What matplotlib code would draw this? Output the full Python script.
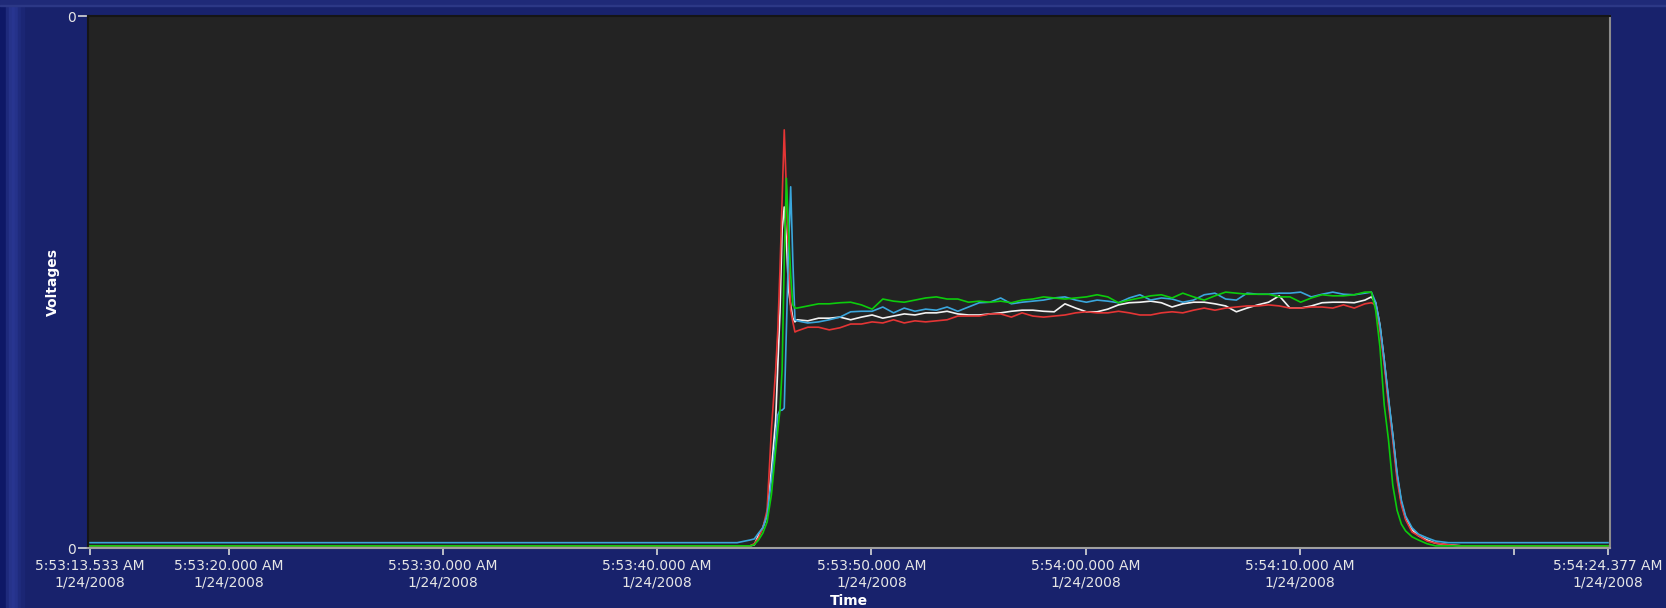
import numpy as np
import matplotlib
matplotlib.use("Agg")
import matplotlib.pyplot as plt
from matplotlib.patches import Rectangle

# seconds after 5:53:13.533 AM
t_end = 70.844
times = [0.0, 30.2, 30.8, 31.0, 31.2, 31.4, 31.6, 31.8, 32.0, 32.1, 32.2, 32.3,
         32.4, 32.5, 32.6, 32.7, 32.8, 32.9,
         33.0, 33.5, 34.0, 34.5, 35.0, 35.5, 36.0, 36.5, 37.0, 37.5, 38.0, 38.5,
         39.0, 39.5, 40.0, 40.5, 41.0, 41.5, 42.0, 42.5, 43.0, 43.5, 44.0, 44.5,
         45.0, 45.5, 46.0, 46.5, 47.0, 47.5, 48.0, 48.5, 49.0, 49.5, 50.0, 50.5,
         51.0, 51.5, 52.0, 52.5, 53.0, 53.5, 54.0, 54.5, 55.0, 55.5, 56.0, 56.5,
         57.0, 57.5, 58.0, 58.5, 59.0, 59.5,
         59.8, 60.0, 60.2, 60.4, 60.6, 60.8, 61.0, 61.2, 61.4, 61.7, 62.0, 62.4,
         62.8, 63.4, 64.0, t_end]

red = [0.04, 0.04, 0.04, 0.08, 0.19, 0.38, 0.71, 2.22, 3.35, 4.10, 5.23, 6.54,
       7.86, 6.73, 5.41, 4.47, 4.25, 4.06,
       4.08, 4.15, 4.15, 4.10, 4.14, 4.21, 4.21, 4.25, 4.23, 4.29, 4.23, 4.27,
       4.25, 4.27, 4.29, 4.36, 4.36, 4.36, 4.40, 4.40, 4.34, 4.42, 4.36, 4.34,
       4.36, 4.38, 4.42, 4.44, 4.42, 4.42, 4.45, 4.42, 4.38, 4.38, 4.42, 4.44,
       4.42, 4.47, 4.51, 4.47, 4.51, 4.53, 4.55, 4.55, 4.57, 4.55, 4.51, 4.51,
       4.53, 4.53, 4.51, 4.57, 4.51, 4.59,
       4.61, 4.57, 4.10, 3.44, 2.69, 2.03, 1.28, 0.81, 0.53, 0.30, 0.23, 0.13,
       0.09, 0.06, 0.04, 0.04]

white = [0.04, 0.04, 0.04, 0.06, 0.24, 0.38, 0.62, 1.47, 2.41, 3.44, 4.42, 5.98,
         6.41, 5.79, 4.85, 4.57, 4.32, 4.25,
         4.29, 4.27, 4.32, 4.32, 4.34, 4.29, 4.34, 4.38, 4.32, 4.36, 4.40, 4.38,
         4.42, 4.42, 4.45, 4.40, 4.38, 4.38, 4.40, 4.42, 4.45, 4.47, 4.47, 4.45,
         4.44, 4.59, 4.51, 4.44, 4.44, 4.49, 4.57, 4.61, 4.62, 4.64, 4.61, 4.53,
         4.59, 4.62, 4.62, 4.59, 4.55, 4.44, 4.51, 4.57, 4.62, 4.74, 4.51, 4.51,
         4.55, 4.61, 4.62, 4.62, 4.61, 4.66,
         4.72, 4.61, 4.19, 3.53, 2.78, 2.12, 1.37, 0.86, 0.56, 0.34, 0.23, 0.15,
         0.09, 0.06, 0.04, 0.04]

cyan = [0.10, 0.10, 0.15, 0.17, 0.28, 0.38, 0.62, 1.28, 2.03, 2.50, 2.59, 2.59,
        2.63, 4.10, 5.60, 6.79, 5.41, 4.29,
        4.27, 4.23, 4.25, 4.29, 4.34, 4.44, 4.45, 4.45, 4.53, 4.42, 4.51, 4.45,
        4.49, 4.47, 4.53, 4.45, 4.53, 4.61, 4.62, 4.70, 4.59, 4.62, 4.64, 4.66,
        4.70, 4.72, 4.66, 4.62, 4.66, 4.64, 4.61, 4.70, 4.76, 4.66, 4.70, 4.68,
        4.62, 4.66, 4.76, 4.79, 4.68, 4.66, 4.79, 4.77, 4.77, 4.79, 4.79, 4.81,
        4.72, 4.77, 4.81, 4.77, 4.76, 4.79,
        4.81, 4.62, 4.19, 3.53, 2.82, 2.12, 1.41, 0.90, 0.60, 0.38, 0.26, 0.19,
        0.13, 0.10, 0.10, 0.10]

green = [0.04, 0.04, 0.04, 0.06, 0.15, 0.28, 0.49, 1.00, 1.84, 2.22, 2.59, 3.35,
         5.41, 6.95, 5.98, 5.13, 4.57, 4.51,
         4.51, 4.55, 4.59, 4.59, 4.61, 4.62, 4.57, 4.49, 4.68, 4.64, 4.62, 4.66,
         4.70, 4.72, 4.68, 4.68, 4.62, 4.64, 4.62, 4.64, 4.61, 4.66, 4.68, 4.72,
         4.70, 4.68, 4.70, 4.72, 4.76, 4.72, 4.61, 4.66, 4.70, 4.74, 4.76, 4.70,
         4.79, 4.72, 4.66, 4.74, 4.81, 4.79, 4.77, 4.77, 4.77, 4.72, 4.72, 4.62,
         4.70, 4.76, 4.74, 4.74, 4.76, 4.81,
         4.81, 4.47, 3.78, 2.69, 2.03, 1.18, 0.71, 0.45, 0.32, 0.21, 0.15, 0.08,
         0.04, 0.04, 0.04, 0.04]

tick_times = [0.0, 6.467, 16.467, 26.467, 36.467, 46.467, 56.467, 66.467, t_end]
tick_labels = ["5:53:13.533 AM\n1/24/2008", "5:53:20.000 AM\n1/24/2008",
               "5:53:30.000 AM\n1/24/2008", "5:53:40.000 AM\n1/24/2008",
               "5:53:50.000 AM\n1/24/2008", "5:54:00.000 AM\n1/24/2008",
               "5:54:10.000 AM\n1/24/2008", "",
               "5:54:24.377 AM\n1/24/2008"]

navy = "#18226c"
fig = plt.figure(figsize=(16.66, 6.08), dpi=100, facecolor=navy)

# window chrome: darker outer edge and lighter bevel on the left, strip on top
W, H = 1666, 608
fig.patches.append(Rectangle((0, 0), 6 / W, 1, transform=fig.transFigure,
                             color="#0e1866", zorder=0))
for i, c in enumerate(["#1e2a7c", "#26338a", "#283590", "#25328a", "#1f2b7d", "#1b2674"]):
    fig.patches.append(Rectangle(((6 + 3 * i) / W, 0), 3 / W, 1,
                                 transform=fig.transFigure, color=c, zorder=0))
fig.patches.append(Rectangle((0, 1 - 5 / H), 1, 5 / H, transform=fig.transFigure,
                             color="#1f2a78", zorder=0))
fig.patches.append(Rectangle((0, 1 - 6 / H), 1, 1 / H, transform=fig.transFigure,
                             color="#2c3886", zorder=0))

ax = fig.add_axes([88 / W, 1 - 548 / H, (1610 - 88) / W, (548 - 16) / H])
ax.set_facecolor("#232323")

lw = 1.2
ax.plot(times, white, color="#f2f2f2", lw=lw)
ax.plot(times, red, color="#e53535", lw=lw)
ax.plot(times, cyan, color="#3aa6dc", lw=lw)
ax.plot(times, green, color="#0ccc0c", lw=lw)

px = t_end / (1608 - 90)
ax.set_xlim(-2 * px, t_end + 2 * px)
ax.set_ylim(0, 10)

ax.set_xticks(tick_times)
ax.set_xticklabels(tick_labels, fontsize=10, color="#e6e6e6", linespacing=1.25)
ax.set_yticks([0, 10])
ax.set_yticklabels(["0", "0"], fontsize=10, color="#e6e6e6")
ax.tick_params(axis="x", direction="out", length=5, width=1.2, color="#d8d8d8", pad=3)
ax.tick_params(axis="y", direction="out", length=7, width=1.2, color="#d8d8d8", pad=2)

for side, col in [("left", "#151515"), ("top", "#151515"),
                  ("right", "#8c8c8c"), ("bottom", "#a0a0a0")]:
    ax.spines[side].set_color(col)
    ax.spines[side].set_linewidth(1.5)

ax.set_xlabel("Time", fontsize=10, fontweight="bold", color="white", labelpad=3)
ax.set_ylabel("Voltages", fontsize=10, fontweight="bold", color="white", labelpad=5)

fig.savefig("out.png", dpi=100, facecolor=navy)
